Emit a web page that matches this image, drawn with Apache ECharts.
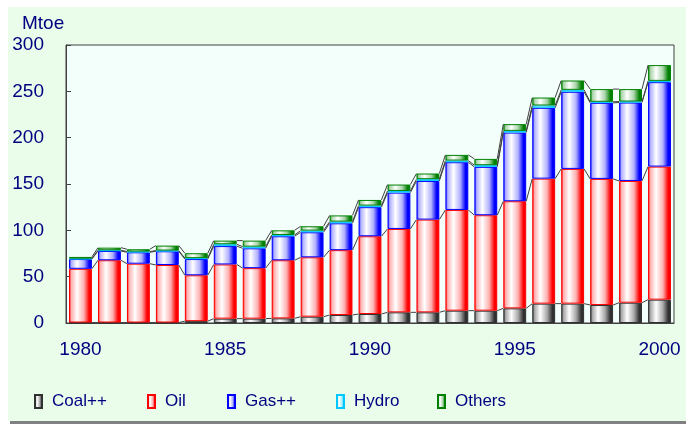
<!DOCTYPE html>
<html>
<head>
<meta charset="utf-8">
<script src="https://cdn.jsdelivr.net/npm/echarts@6/dist/echarts.min.js"></script>
<style>html,body{margin:0;padding:0;background:#fff;}#c{width:686px;height:424px;}</style>
</head>
<body>
<div id="c"></div>
<script>
const years = ['1980','1981','1982','1983','1984','1985','1986','1987','1988','1989','1990','1991','1992','1993','1994','1995','1996','1997','1998','1999','2000'];
const coal   = [0.5,0.5,0.5,0.5,2,4.7,4.7,5,6.8,8.6,9.7,11.5,11.5,13.3,13.3,15.8,20.9,20.9,19.4,21.9,25.2];
const oil    = [58,67.2,63.5,62.1,49.5,58.5,54.5,62.7,64.1,70,83.9,90,100.1,108.7,103,115.6,134.9,145.4,136.1,131.4,143.6];
const gas    = [10.5,10,12.3,14.8,17.5,19.8,21.4,25.9,27,29,31.4,39.2,41.7,51.5,52.2,74.1,76.4,83.2,82.1,84.6,91.1];
const hydro  = [0.5,0.8,0.8,0.8,1,2,1.8,1.4,1.8,1.8,1.7,1.8,1.9,1.8,1.8,1.8,2.5,2.1,1.1,1.1,1.4];
const others = [1.8,2.8,2.5,5.3,5.3,3.9,6.5,5,4.7,6.7,6.1,6.9,6.1,6.1,6.8,7.3,8.6,10.1,13.7,13.4,17];
const yTicks = [0,50,100,150,200,250,300];

const names = ['Coal++','Oil','Gas++','Hydro','Others'];
const values = [coal, oil, gas, hydro, others];
const cols = [['#303030','#a8a8a8'],['#ff0000','#ffb0b0'],['#0000ff','#b0b0ff'],['#00c8ff','#b0f0ff'],['#008000','#a8d4a8']];
const textColor = '#000080';
const FONT = "'Liberation Sans', Arial, sans-serif";
const BAR = 0.79;

function grad(c, l) {
  return new echarts.graphic.LinearGradient(0, 0, 1, 0, [
    {offset: 0, color: c}, {offset: 0.1, color: l}, {offset: 0.35, color: '#ffffff'},
    {offset: 0.65, color: l}, {offset: 0.88, color: c}, {offset: 1, color: c}
  ]);
}

// cumulative tops for series lines
const cum = years.map((_, i) => {
  let s = 0; return values.map(v => (s += v[i]));
});
const lineData = [];
for (let i = 0; i < years.length - 1; i++) {
  lineData.push([i].concat(cum[i], cum[i + 1]));
}

const series = names.map((n, k) => ({
  name: n, type: 'bar', stack: 'tot', barWidth: (BAR * 100) + '%',
  data: values[k],
  itemStyle: {color: grad(cols[k][0], cols[k][1]), borderColor: cols[k][0], borderWidth: 1},
  emphasis: {disabled: true}
}));
series.push({
  type: 'custom', z: 5, silent: true,
  data: lineData,
  encode: {x: 0, y: [1, 2, 3, 4, 5]},
  renderItem: function (params, api) {
    const i = api.value(0);
    const half = api.size([1, 0])[0] * BAR / 2;
    const children = [];
    for (let k = 1; k <= 5; k++) {
      const p1 = api.coord([i, api.value(k)]);
      const p2 = api.coord([i + 1, api.value(k + 5)]);
      children.push({type: 'line', shape: {x1: p1[0] + half, y1: p1[1], x2: p2[0] - half, y2: p2[1]},
        style: {stroke: '#404040', lineWidth: 1}});
    }
    return {type: 'group', children: children};
  }
});

const legendLeft = [34, 147, 227, 336, 437];
const legends = names.map((n, k) => ({
  data: [n], left: legendLeft[k], top: 393, padding: 0, itemWidth: 7, itemHeight: 13, icon: 'rect',
  selectedMode: false,
  textStyle: {color: textColor, fontSize: 17, fontFamily: FONT, padding: [0, 0, 0, 5]}
}));

const chart = echarts.init(document.getElementById('c'), null, {renderer: 'canvas'});
chart.setOption({
  backgroundColor: '#ffffff',
  animation: false,
  graphic: [
    {type: 'rect', left: 10, top: 421, shape: {width: 676, height: 3}, style: {fill: '#808080'}, z: -10},
    {type: 'rect', left: 8, top: 7, shape: {width: 678, height: 414}, style: {fill: '#eafdea'}, z: -9}
  ],
  title: {text: 'Mtoe', left: 17, top: 9, textStyle: {color: textColor, fontSize: 19, fontWeight: 'normal', fontFamily: FONT}},
  legend: legends,
  grid: {left: 66, top: 45, right: 12, bottom: 101, show: true, backgroundColor: '#f3fffb', borderColor: '#404040', borderWidth: 1},
  xAxis: {
    type: 'category', data: years,
    axisLine: {lineStyle: {color: '#404040'}},
    axisTick: {inside: true, length: 4, interval: 0, lineStyle: {color: '#404040'}},
    axisLabel: {interval: 4, color: textColor, fontSize: 19, margin: 17, fontFamily: FONT},
    splitLine: {show: false}
  },
  yAxis: {
    type: 'value', min: 0, max: 300, interval: 50,
    axisLine: {show: true, lineStyle: {color: '#404040'}},
    axisTick: {show: true, inside: true, length: 5, lineStyle: {color: '#404040'}},
    axisLabel: {color: textColor, fontSize: 19, margin: 22, fontFamily: FONT, customValues: yTicks},
    splitLine: {show: false}
  },
  series: series
});
</script>
</body>
</html>
